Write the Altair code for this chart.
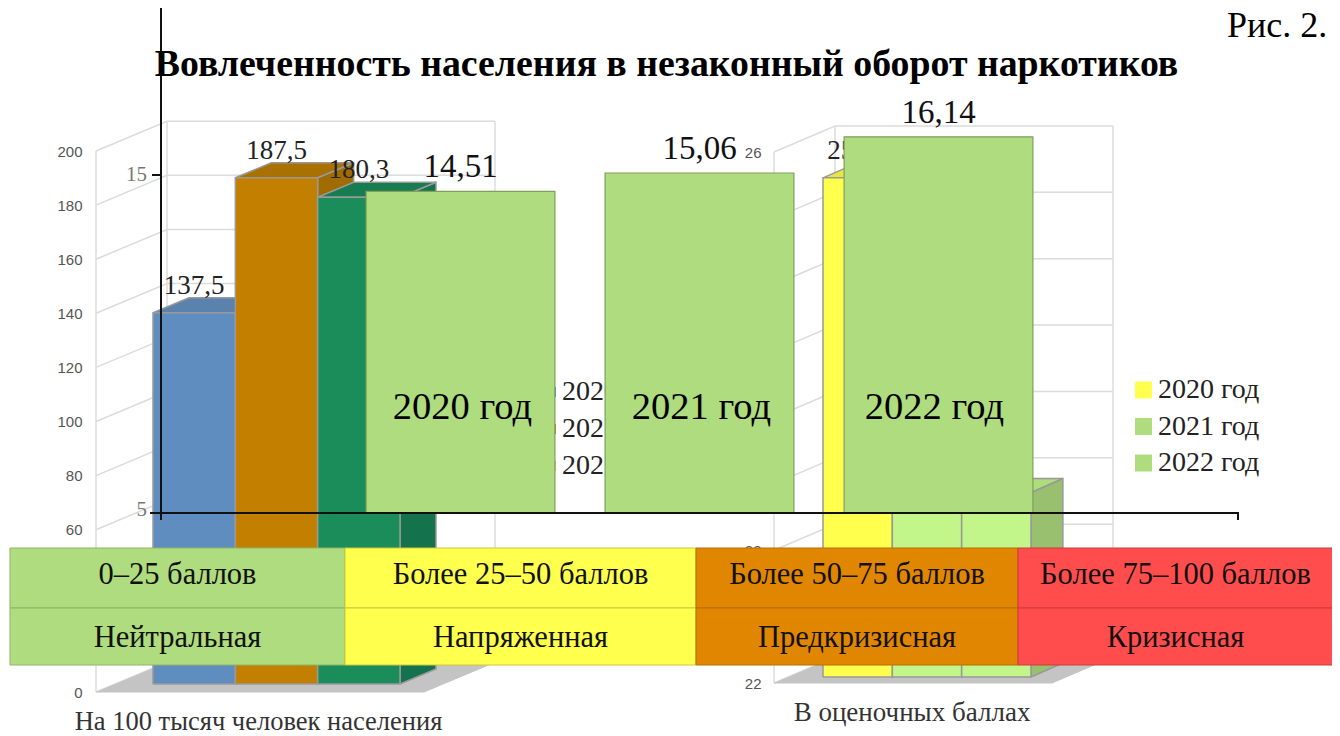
import altair as alt
import pandas as pd

# ---- data ----
left_values = [137.5, 187.5, 180.3]
left_labels = ["137,5", "187,5", "180,3"]
left_ticks = [0, 20, 40, 60, 80, 100, 120, 140, 160, 180, 200]

right_values = [25.76, 24.9, 23.39]
right_labels = ["25,76", "24,9", "23,39"]
right_ticks = [22, 23, 24, 25, 26]
right_grid = [22, 22.5, 23, 23.5, 24, 24.5, 25, 25.5, 26]

plate_names = ["2020 год", "2021 год", "2022 год"]
plate_values = [14.51, 15.06, 16.14]
plate_labels = ["14,51", "15,06", "16,14"]
plate_ticks = [5, 15]

table_edges = [0, 25, 50, 75, 100]
table_row1 = ["0–25 баллов", "Более 25–50 баллов", "Более 50–75 баллов", "Более 75–100 баллов"]
table_row2 = ["Нейтральная", "Напряженная", "Предкризисная", "Кризисная"]
table_fill = ["#afdc7e", "#ffff4d", "#e08600", "#ff4d4d"]
table_line = ["#8fb565", "#c9c93c", "#b96f00", "#cc3d3d"]

left_front = ["#5f8dc0", "#c38000", "#1a8d5a"]
left_top = ["#5a82ac", "#a97200", "#177c50"]
left_side = ["#4f7299", "#a06c00", "#14734c"]
right_front = ["#ffff4d", "#c2f58a", "#c2f58a"]
right_top = ["#e6e645", "#aedd7c", "#aedd7c"]
right_side = ["#c9c93c", "#98c06e", "#98c06e"]
hidden_swatch = ["#5f8dc0", "#c38000", "#e8c060"]
right_swatch = ["#ffff4d", "#afdc7e", "#afdc7e"]

SERIF = "Liberation Serif"
SANS = "Liberation Sans"
OX, OY = 8, 8


def sc(dom, rng, origin):
    return alt.Scale(domain=dom, range=[r - origin for r in rng], nice=False, zero=False)


def X(field, dom, rng):
    return alt.X(field + ":Q", scale=sc(dom, rng, OX), axis=None, title=None)


def Y(field, dom, rng, axis=None):
    return alt.Y(field + ":Q", scale=sc(dom, rng, OY), axis=axis, title=None)


def faces(values, front, top, side, dx, dy):
    rows = []
    for i, v in enumerate(values):
        quads = [
            (side[i], [(i + 1, 0), (i + 1 + dx, dy), (i + 1 + dx, v + dy), (i + 1, v)]),
            (top[i], [(i, v), (i + 1, v), (i + 1 + dx, v + dy), (i + dx, v + dy)]),
            (front[i], [(i, 0), (i + 1, 0), (i + 1, v), (i, v)]),
        ]
        for j, (c, pts) in enumerate(quads):
            for k, (x, y) in enumerate(pts + pts[:1]):
                rows.append(dict(face=f"{i}-{j}", k=k, x=x, y=y, c=c))
    return pd.DataFrame(rows)


def solid_poly(df, xs, ys, stroke, sw=1.5):
    return alt.Chart(df).mark_line(stroke=stroke, strokeWidth=sw, strokeJoin="miter").encode(
        x=X("x", *xs), y=Y("y", *ys),
        fill=alt.Fill("c:N", scale=None), detail="face:N", order="k:Q")


def walls(ticks, xs, ys, back_x, back_dy, right_x, right_front_x, line_w=1.5):
    rows = []
    for t in ticks:
        rows += [dict(id=f"g{t}", k=0, x=0, y=t),
                 dict(id=f"g{t}", k=1, x=back_x, y=t + back_dy),
                 dict(id=f"g{t}", k=2, x=right_x, y=t + back_dy)]
    lo, hi = ticks[0], ticks[-1]
    rows += [dict(id="v0", k=0, x=0, y=lo), dict(id="v0", k=1, x=0, y=hi)]
    rows += [dict(id="v1", k=0, x=back_x, y=lo + back_dy), dict(id="v1", k=1, x=back_x, y=hi + back_dy)]
    rows += [dict(id="v2", k=0, x=right_x, y=lo + back_dy), dict(id="v2", k=1, x=right_x, y=hi + back_dy)]
    floor = pd.DataFrame([
        dict(face="f", k=0, x=0, y=lo, c="#c4c4c4"),
        dict(face="f", k=1, x=right_front_x, y=lo, c="#c4c4c4"),
        dict(face="f", k=2, x=right_x, y=lo + back_dy, c="#c4c4c4"),
        dict(face="f", k=3, x=back_x, y=lo + back_dy, c="#c4c4c4"),
    ])
    g = alt.Chart(pd.DataFrame(rows)).mark_line(stroke="#dcdcdc", strokeWidth=line_w).encode(
        x=X("x", *xs), y=Y("y", *ys), detail="id:N", order="k:Q")
    return [g, solid_poly(floor, xs, ys, "#c4c4c4", 1)]


def note(text, x, y, size, color="#000000", font=SERIF, bold=False, align="center"):
    return alt.Chart(alt.Data(values=[{"t": text}])).mark_text(
        font=font, fontSize=size, color=color, align=align, baseline="middle",
        fontWeight="bold" if bold else "normal"
    ).encode(x=alt.value(x - OX), y=alt.value(y - OY), text="t:N")


layers = []

# ---- left 3D chart ----
L_WALL = (([0, 1], [96, 495]), ([0, 200], [692, 151]))
layers += walls(left_ticks, *L_WALL, 0.178, 11, 1, 0.822)
left_axis = alt.Axis(values=left_ticks, orient="left", offset=-74, domain=False, ticks=False, grid=False,
                     labelFont=SANS, labelFontSize=15, labelColor="#555555", labelPadding=0,
                     labelFlush=False, labelOverlap=False)
layers.append(alt.Chart(pd.DataFrame({"v": left_ticks})).mark_point(opacity=0).encode(
    y=Y("v", *L_WALL[1], axis=left_axis)))

L_BX = ([0, 3], [153, 400])
L_BY = ([0, 200], [684, 144])
layers.append(solid_poly(faces(left_values, left_front, left_top, left_side, 0.437, 5.55), L_BX, L_BY, "#999999"))
ldf = pd.DataFrame({"i": [0.5, 1.5, 2.5], "v": left_values, "t": left_labels})
layers.append(alt.Chart(ldf).mark_text(font=SERIF, fontSize=27, color="#222222", dy=-27).encode(
    x=X("i", *L_BX), y=Y("v", *L_BY), text="t:N"))

# ---- right 3D chart ----
R_WALL = (([0, 1], [774, 1113]), ([22, 26], [683, 152]))
layers += walls(right_grid, *R_WALL, 0.18, 0.196, 1, 0.82)
right_axis = alt.Axis(values=right_ticks, orient="left", offset=-753, domain=False, ticks=False, grid=False,
                      labelFont=SANS, labelFontSize=15, labelColor="#555555", labelPadding=0,
                      format="d", labelOverlap=False)
layers.append(alt.Chart(pd.DataFrame({"v": right_ticks})).mark_point(opacity=0).encode(
    y=Y("v", *R_WALL[1], axis=right_axis)))

R_BX = ([0, 3], [823, 1031])
R_BY = ([22, 26], [677, 146])
rf = faces([v - 22 for v in right_values], right_front, right_top, right_side, 0.46, 0.105)
rf["y"] = rf["y"] + 22
layers.append(solid_poly(rf, R_BX, R_BY, "#999999"))
rdf = pd.DataFrame({"i": [0.5, 1.5, 2.5], "v": right_values, "t": right_labels})
layers.append(alt.Chart(rdf).mark_text(font=SERIF, fontSize=27, color="#222222", dy=-27).encode(
    x=X("i", *R_BX), y=Y("v", *R_BY), text="t:N"))

# ---- legends ----
hid = pd.DataFrame({"i": [0, 1, 2], "t": plate_names, "c": hidden_swatch})
hy = ([0, 2], [392, 466])
layers.append(alt.Chart(hid).mark_square(size=100, opacity=1).encode(
    x=alt.value(551 - OX), y=Y("i", *hy), color=alt.Color("c:N", scale=None)))
layers.append(alt.Chart(hid).mark_text(font=SERIF, fontSize=28, color="#222222", align="left").encode(
    x=alt.value(562 - OX), y=Y("i", *hy), text="t:N"))

leg = pd.DataFrame({"i": [0, 1, 2], "t": plate_names, "c": right_swatch})
ry = ([0, 2], [390, 463])
layers.append(alt.Chart(leg).mark_square(size=289, opacity=1).encode(
    x=alt.value(1143.5 - OX), y=Y("i", *ry), color=alt.Color("c:N", scale=None)))
layers.append(alt.Chart(leg).mark_text(font=SERIF, fontSize=28, color="#222222", align="left").encode(
    x=alt.value(1158 - OX), y=Y("i", *ry), text="t:N"))

# ---- captions ----
layers.append(note("На 100 тысяч человек населения", 258.5, 722, 26.5, "#333333"))
layers.append(note("В оценочных баллах", 912, 713, 27, "#333333"))

# ---- front plates ----
P_X = ([0, 2], [460.5, 938.5])
P_Y = ([5, 15], [510, 175])
pdf = pd.DataFrame({"a": [i - 0.395 for i in range(3)], "b": [i + 0.395 for i in range(3)],
                    "i": [0, 1, 2], "v": plate_values, "base": [4.91] * 3, "mid": [10.0] * 3,
                    "nx": [0.008, 1.008, 1.983],
                    "t": plate_labels, "n": plate_names})
layers.append(alt.Chart(pdf).mark_rect(fill="#afdc7e", stroke="#7f9f5c", strokeWidth=1.2).encode(
    x=X("a", *P_X), x2="b:Q", y=Y("v", *P_Y), y2="base:Q"))
layers.append(alt.Chart(pdf).mark_text(font=SERIF, fontSize=33, color="#111111", dy=-24).encode(
    x=X("i", *P_X), y=Y("v", *P_Y), text="t:N"))
layers.append(alt.Chart(pdf).mark_text(font=SERIF, fontSize=38.5, color="#000000").encode(
    x=X("nx", *P_X), y=Y("mid", [10, 11], [407, 373.5]), text="n:N"))

# ---- black axes with ticks ----
black = pd.DataFrame([
    dict(id="v", k=0, x=161, y=20), dict(id="v", k=1, x=161, y=4.7),
    dict(id="h", k=0, x=150, y=4.91), dict(id="h", k=1, x=1238, y=4.91), dict(id="h", k=2, x=1238, y=4.7),
    dict(id="t", k=0, x=152, y=15), dict(id="t", k=1, x=161, y=15),
])
layers.append(alt.Chart(black).mark_line(stroke="#111111", strokeWidth=2).encode(
    x=X("x", [0, 1340], [0, 1340]), y=Y("y", *P_Y), detail="id:N", order="k:Q"))
ticks_df = pd.DataFrame({"v": plate_ticks, "t": [str(t) for t in plate_ticks]})
layers.append(alt.Chart(ticks_df).mark_text(font=SERIF, fontSize=21, color="#777777", align="right").encode(
    x=alt.value(147 - OX), y=Y("v", *P_Y), text="t:N"))

# ---- table ----
T_X = ([0, 25, 50, 75, 100], [10, 345, 696, 1018, 1333])
T_Y = ([0, 1, 2], [548, 608, 665])
cells = []
for c in range(4):
    for r, names in enumerate([table_row1, table_row2]):
        cells.append(dict(a=table_edges[c], b=table_edges[c + 1], m=(table_edges[c] + table_edges[c + 1]) / 2,
                          r0=r, r1=r + 1, rm=r + 0.45 + 0.08 * r, t=names[c], f=table_fill[c], s=table_line[c]))
cells = pd.DataFrame(cells)
layers.append(alt.Chart(cells).mark_rect(strokeWidth=1).encode(
    x=X("a", *T_X), x2="b:Q", y=Y("r0", *T_Y), y2="r1:Q",
    fill=alt.Fill("f:N", scale=None), stroke=alt.Stroke("s:N", scale=None)))
layers.append(alt.Chart(cells).mark_text(font=SERIF, fontSize=30.5, color="#111111").encode(
    x=X("m", *T_X), y=Y("rm", *T_Y), text="t:N"))

# ---- title and figure number ----
layers.append(note("Вовлеченность населения в незаконный оборот наркотиков", 666.5, 65, 37.8, bold=True))
layers.append(note("Рис. 2.", 1277, 26, 36))

chart = alt.layer(*layers).resolve_scale(x="independent", y="independent", color="independent",
                                         fill="independent", stroke="independent").properties(
    width=1324, height=728, padding=0, autosize=alt.AutoSizeParams(type="none"),
    background="white"
).configure_view(stroke=None)

chart.save("out.html", embed_options={"renderer": "svg", "actions": False})
